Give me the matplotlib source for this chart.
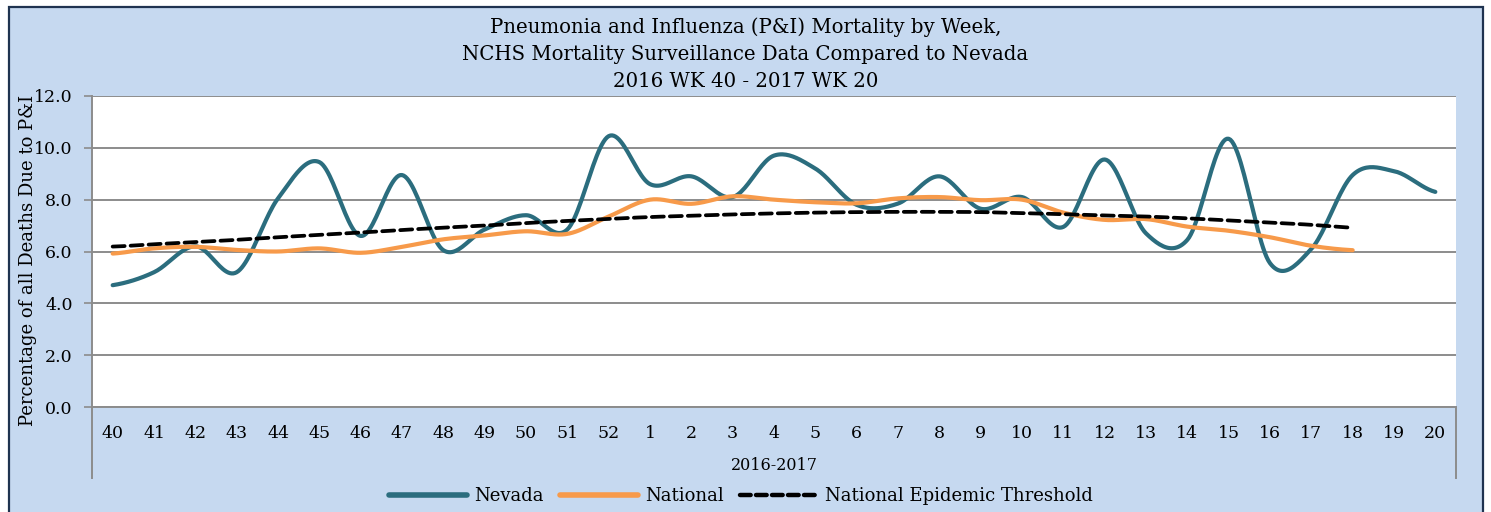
import matplotlib.pyplot as plt
import numpy as np
from matplotlib.patches import Rectangle
from matplotlib.lines import Line2D

# week labels, 2016 wk 40 .. 2017 wk 20
weeks = [str(w) for w in range(40, 53)] + [str(w) for w in range(1, 21)]

nevada = [4.7, 5.2, 6.2, 5.2, 8.05, 9.45, 6.6, 8.95, 6.05, 6.85, 7.4, 6.85, 10.45,
          8.6, 8.9, 8.1, 9.7, 9.2, 7.8, 7.85, 8.9, 7.65, 8.1, 6.95, 9.55, 6.7,
          6.45, 10.35, 5.55, 6.1, 8.95, 9.1, 8.3]
national = [5.92, 6.12, 6.18, 6.06, 6.0, 6.12, 5.95, 6.18, 6.47, 6.62, 6.78, 6.68, 7.35,
            8.0, 7.84, 8.13, 8.0, 7.9, 7.86, 8.05, 8.1, 7.98, 8.0, 7.5, 7.22, 7.25,
            6.96, 6.8, 6.55, 6.22, 6.05]
threshold = [6.19, 6.28, 6.36, 6.45, 6.55, 6.64, 6.73, 6.83, 6.92, 7.0, 7.1, 7.18, 7.26,
             7.33, 7.38, 7.43, 7.47, 7.5, 7.52, 7.53, 7.53, 7.52, 7.48, 7.44, 7.39, 7.35,
             7.28, 7.2, 7.12, 7.03, 6.92]

TEAL = '#2B6D7E'
ORANGE = '#F79A4A'
BG = '#C6D9F0'
GRID = '#8C8C8C'
FONT = 'DejaVu Serif'


def smooth(y, n=24):
    """Catmull-Rom style smoothing, like Excel's smoothed line."""
    y = np.asarray(y, dtype=float)
    xs, ys = [], []
    for i in range(len(y) - 1):
        p0 = y[i - 1] if i > 0 else y[i]
        p1, p2 = y[i], y[i + 1]
        p3 = y[i + 2] if i + 2 < len(y) else y[i + 1]
        t = np.linspace(0, 1, n, endpoint=False)
        ys.append(0.5 * (2 * p1 + (-p0 + p2) * t
                         + (2 * p0 - 5 * p1 + 4 * p2 - p3) * t ** 2
                         + (-p0 + 3 * p1 - 3 * p2 + p3) * t ** 3))
        xs.append(i + t)
    xs.append([len(y) - 1])
    ys.append([y[-1]])
    return np.concatenate(xs), np.concatenate(ys)


W, H = 1491, 512
fig = plt.figure(figsize=(W / 100, H / 100), dpi=100, facecolor='white')

# chart area box
fig.patches.append(Rectangle((9 / W, -0.02), 1474 / W, (H - 7) / H + 0.02,
                             transform=fig.transFigure, facecolor=BG,
                             edgecolor='#1F3350', linewidth=1.6, zorder=-5))

ax = fig.add_axes([92 / W, (H - 407) / H, 1364 / W, 311 / H])
ax.set_facecolor('white')

x, y = smooth(nevada)
ax.plot(x, y, color=TEAL, lw=3.0, solid_capstyle='round', zorder=3)
x, y = smooth(national)
ax.plot(x, y, color=ORANGE, lw=3.0, solid_capstyle='round', zorder=4)
x, y = smooth(threshold)
ax.plot(x, y, color='black', lw=2.7, dashes=(3.2, 1.6), dash_capstyle='round', zorder=5)

ax.set_xlim(-0.5, len(weeks) - 0.5)
ax.set_ylim(0, 12)
ax.set_yticks(np.arange(0, 12.1, 2))
ax.set_yticklabels([f'{v:.1f}' for v in np.arange(0, 12.1, 2)], fontsize=12.5, family=FONT)
ax.set_xticks(range(len(weeks)))
ax.set_xticklabels(weeks, fontsize=12.5, family=FONT)
ax.tick_params(axis='x', length=0, pad=13)
ax.tick_params(axis='y', length=6, width=1.2, color=GRID, pad=8)
ax.grid(axis='y', color=GRID, lw=1.4)
ax.set_axisbelow(True)
for s in ['top', 'right']:
    ax.spines[s].set_visible(False)
ax.spines['left'].set_color(GRID)
ax.spines['bottom'].set_color(GRID)
ax.spines['left'].set_linewidth(1.4)
ax.spines['bottom'].set_linewidth(1.4)

# category axis box lines below the plot
for xv in (0, 1):
    ax.add_line(Line2D([xv, xv], [0, -71 / 311], transform=ax.transAxes,
                       color=GRID, lw=1.4, clip_on=False))

ax.text(0.5, -59 / 311, '2016-2017', transform=ax.transAxes, ha='center', va='center',
        fontsize=11.5, family=FONT)

ax.set_ylabel('Percentage of all Deaths Due to P&I', fontsize=13, family=FONT)
ax.yaxis.set_label_coords(-55 / 1364, 0.47)

fig.text(0.5, (H - 54) / H,
         'Pneumonia and Influenza (P&I) Mortality by Week,\n'
         'NCHS Mortality Surveillance Data Compared to Nevada\n'
         '2016 WK 40 - 2017 WK 20',
         ha='center', va='center', fontsize=14.2, family=FONT, linespacing=1.55)

handles = [Line2D([], [], color=TEAL, lw=4, solid_capstyle='round'),
           Line2D([], [], color=ORANGE, lw=4, solid_capstyle='round'),
           Line2D([], [], color='black', lw=3.2, dashes=(2.4, 1.2), dash_capstyle='round')]
fig.legend(handles, ['Nevada', 'National', 'National Epidemic Threshold'],
           loc='center', bbox_to_anchor=(0.497, (H - 496) / H), ncol=3, frameon=False,
           prop={'family': FONT, 'size': 13}, handlelength=4.3, columnspacing=0.9,
           handletextpad=0.4)

fig.savefig('out.png', dpi=100, facecolor='white')
